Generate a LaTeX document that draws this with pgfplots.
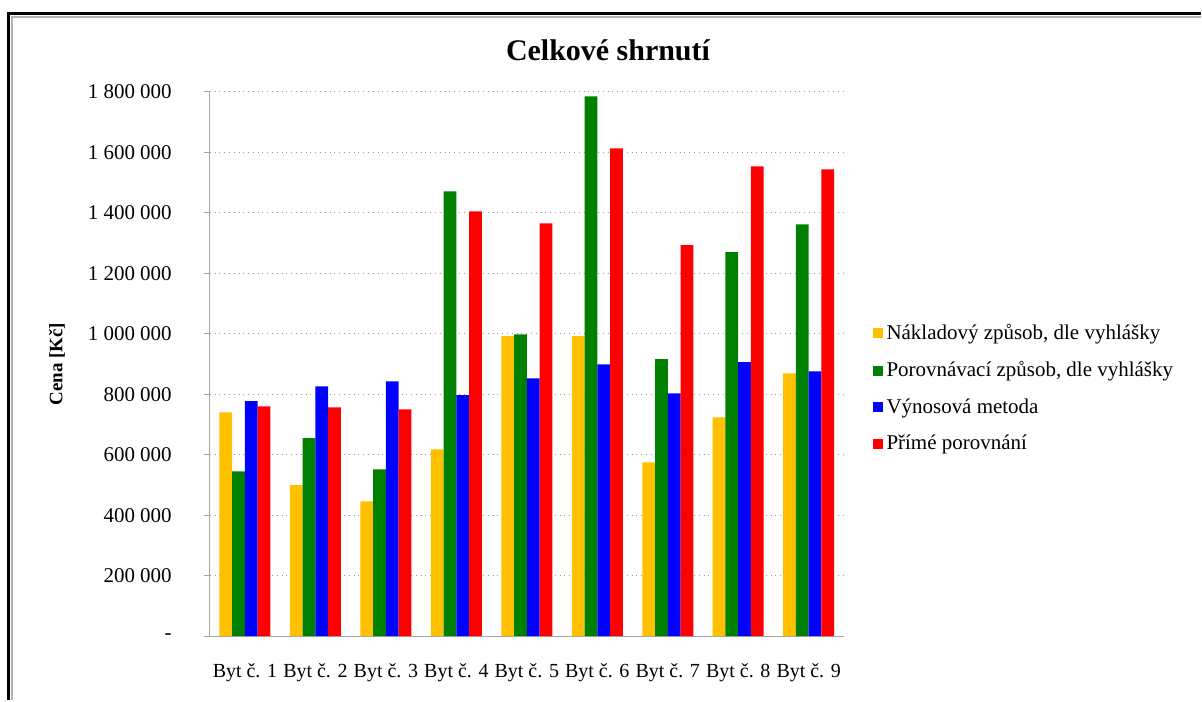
\documentclass[border=0pt]{standalone}
\usepackage{fontspec}
\setmainfont{Liberation Serif}
\usepackage{pgfplots}
\pgfplotsset{compat=1.18}

\definecolor{cNakl}{HTML}{FFC000}
\definecolor{cPor}{HTML}{008000}
\definecolor{cVyn}{HTML}{0000FF}
\definecolor{cPrime}{HTML}{FF0000}

\begin{document}
\begin{tikzpicture}[font=\fontsize{10}{12}\selectfont]
  \begin{axis}[
    scale only axis,
    width=317.5pt, height=272.5pt,
    ybar=0pt,
    bar width=0.181,
    xmin=0.5, xmax=9.5,
    ymin=0, ymax=1800000,
    xtick=data,
    xticklabels={Byt č. 1,Byt č. 2,Byt č. 3,Byt č. 4,Byt č. 5,Byt č. 6,Byt č. 7,Byt č. 8,Byt č. 9},
    xtick style={draw=none},
    xticklabel style={yshift=-7pt},
    ytick={0,200000,400000,600000,800000,1000000,1200000,1400000,1600000,1800000},
    yticklabels={-,200 000,400 000,600 000,800 000,1 000 000,1 200 000,1 400 000,1 600 000,1 800 000},
    scaled y ticks=false,
    yticklabel style={anchor=east, xshift=-12.5pt, font=\fontsize{10.5}{12}\selectfont},
    /pgf/number format/assume math mode=true,
    axis x line*=bottom,
    axis y line*=left,
    axis line style={gray!70, line width=0.6pt},
    tick align=outside,
    major tick length=3pt,
    ytick style={gray!70, line width=0.6pt},
    ymajorgrids,
    major grid style={gray!80, dotted, line width=0.6pt},
    ylabel={Cena [Kč]},
    ylabel style={at={(axis description cs:-0.241,0.5)}, anchor=center, font=\fontsize{9.5}{11}\selectfont\bfseries},
    title={Celkové shrnutí},
    title style={at={(axis description cs:0.628,1)}, anchor=base, yshift=9.5pt, font=\fontsize{15}{18}\selectfont\bfseries},
    legend style={at={(axis description cs:1.035,0.455)}, anchor=west, draw=none,
      font=\fontsize{10.5}{12}\selectfont, row sep=5.5pt, cells={anchor=west}},
    legend image code/.code={\fill[#1] (0pt,-2.5pt) rectangle (5pt,2.5pt);},
    every axis plot/.append style={draw=none},
  ]
  \addplot[fill=cNakl] coordinates {(1,740000) (2,500000) (3,446000) (4,618000) (5,992000) (6,992000) (7,575000) (8,724000) (9,869000)};
  \addplot[fill=cPor] coordinates {(1,545000) (2,655000) (3,552000) (4,1471000) (5,998000) (6,1785000) (7,916000) (8,1270000) (9,1362000)};
  \addplot[fill=cVyn] coordinates {(1,777000) (2,826000) (3,843000) (4,797000) (5,853000) (6,899000) (7,803000) (8,906000) (9,876000)};
  \addplot[fill=cPrime] coordinates {(1,760000) (2,757000) (3,750000) (4,1405000) (5,1365000) (6,1613000) (7,1293000) (8,1554000) (9,1544000)};
  \legend{{Nákladový způsob, dle vyhlášky},{Porovnávací způsob, dle vyhlášky},{Výnosová metoda},{Přímé porovnání}}
  \end{axis}
  % chart frame (top and left edges visible)
  \draw[line width=1.5pt] (-100.75pt,-32pt) -- (-100.75pt,311.6pt) -- (496pt,311.6pt);
  \draw[gray!60, line width=0.8pt] (-99pt,-32pt) -- (-99pt,310.1pt) -- (496pt,310.1pt);
  \path[use as bounding box] (-105pt,-32pt) rectangle (496pt,318.5pt);
\end{tikzpicture}
\end{document}
